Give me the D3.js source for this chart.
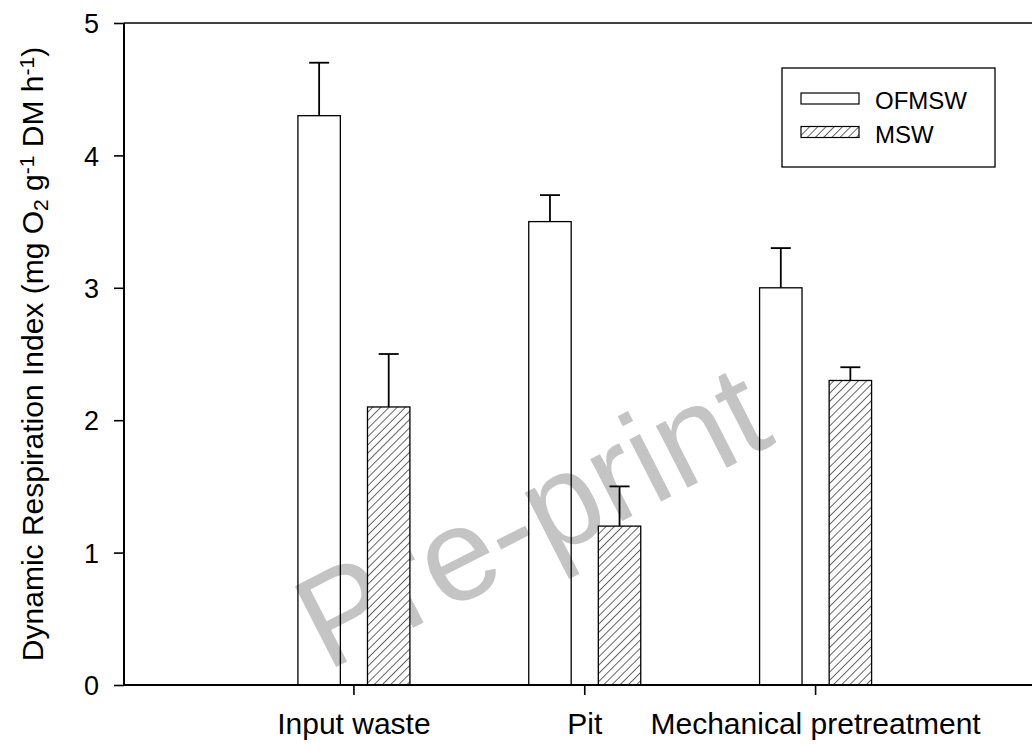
<!DOCTYPE html>
<html>
<head>
<meta charset="utf-8">
<script src="https://cdn.jsdelivr.net/npm/d3@7"></script>
<style>
    body { margin: 0; background: #fff; }
    text { font-family: Arial, "Liberation Sans", sans-serif; fill: #000; }
</style>
</head>
<body>
<div id="chart"></div>
<script>
//-----------------------------Data
var categories = ["Input waste", "Pit", "Mechanical pretreatment"];
var seriesNames = ["OFMSW", "MSW"];
var ofmswValues = [4.3, 3.5, 3.0];
var ofmswErrors = [0.4, 0.2, 0.3];
var mswValues = [2.1, 1.2, 2.3];
var mswErrors = [0.4, 0.3, 0.1];
var yTicks = [0, 1, 2, 3, 4, 5];

var w = 1032;
var h = 749;
var plotLeft = 124, plotRight = 1032, plotTop = 23, plotBottom = 685;

var svg = d3.select("#chart")
    .append("svg")
    .attr("width", w)
    .attr("height", h);

// hatch pattern for MSW bars
var defs = svg.append("defs");
var hatch = defs.append("pattern")
    .attr("id", "hatch")
    .attr("patternUnits", "userSpaceOnUse")
    .attr("width", 5.8)
    .attr("height", 5.8)
    .attr("patternTransform", "rotate(45)");
hatch.append("rect").attr("width", 5.8).attr("height", 5.8).attr("fill", "#fff");
hatch.append("line")
    .attr("x1", 0).attr("y1", 0).attr("x2", 0).attr("y2", 5.8)
    .attr("stroke", "#000").attr("stroke-width", 1.2);

var y = d3.scaleLinear().domain([0, 5]).range([plotBottom, plotTop]);
var x0 = d3.scaleBand().domain(categories).range([238.5, 931]);
var x1 = d3.scaleBand().domain(seriesNames).range([-56, 56]).paddingInner(0.39);

// build rows from the arrays
var rows = [];
categories.forEach(function(c, i) {
    rows.push({ cat: c, series: "OFMSW", value: ofmswValues[i], err: ofmswErrors[i] });
    rows.push({ cat: c, series: "MSW", value: mswValues[i], err: mswErrors[i] });
});

// watermark (open bars let it show through, hatched ones cover it)
svg.append("text")
    .attr("transform", "translate(552,557) rotate(-27)")
    .attr("text-anchor", "middle")
    .style("font-size", "132px")
    .style("fill", "#c4c4c4")
    .text("Pre-print");

function barX(d) {
    return x0(d.cat) + x0.bandwidth() / 2 + x1(d.series);
}

// bars
svg.selectAll("rect.bar")
    .data(rows)
    .enter()
    .append("rect")
    .attr("class", "bar")
    .attr("x", barX)
    .attr("y", function(d) { return y(d.value); })
    .attr("width", x1.bandwidth())
    .attr("height", function(d) { return y(0) - y(d.value); })
    .attr("fill", function(d) { return d.series == "MSW" ? "url(#hatch)" : "none"; })
    .attr("stroke", "#000")
    .attr("stroke-width", 1.3);

// error bars
var errs = svg.selectAll("g.err")
    .data(rows)
    .enter()
    .append("g")
    .attr("class", "err")
    .attr("stroke", "#000")
    .attr("stroke-width", 1.8);
errs.append("line")
    .attr("x1", function(d) { return barX(d) + x1.bandwidth() / 2; })
    .attr("x2", function(d) { return barX(d) + x1.bandwidth() / 2; })
    .attr("y1", function(d) { return y(d.value); })
    .attr("y2", function(d) { return y(d.value + d.err); });
errs.append("line")
    .attr("x1", function(d) { return barX(d) + x1.bandwidth() / 2 - 10; })
    .attr("x2", function(d) { return barX(d) + x1.bandwidth() / 2 + 10; })
    .attr("y1", function(d) { return y(d.value + d.err); })
    .attr("y2", function(d) { return y(d.value + d.err); });

// axes
var yAxis = svg.append("g")
    .attr("transform", "translate(" + plotLeft + ",0)")
    .call(d3.axisLeft(y).tickValues(yTicks).tickFormat(d3.format("d"))
        .tickSize(10).tickPadding(15).tickSizeOuter(0));
yAxis.selectAll("text").style("font-size", "27px").attr("dy", "0.36em");

var xAxis = svg.append("g")
    .attr("transform", "translate(0," + plotBottom + ")")
    .call(d3.axisBottom(x0).tickSize(10).tickPadding(18).tickSizeOuter(0));
xAxis.selectAll("text").style("font-size", "30px");

svg.selectAll(".domain").remove();
svg.selectAll(".tick line").attr("stroke", "#000").attr("stroke-width", 1.6);

// axis lines
svg.append("line")
    .attr("x1", plotLeft).attr("x2", plotLeft).attr("y1", plotTop).attr("y2", plotBottom)
    .attr("stroke", "#000").attr("stroke-width", 2);
svg.append("line")
    .attr("x1", plotLeft).attr("x2", plotRight).attr("y1", plotBottom).attr("y2", plotBottom)
    .attr("stroke", "#000").attr("stroke-width", 2.2);
svg.append("line")
    .attr("x1", plotLeft).attr("x2", plotRight).attr("y1", plotTop).attr("y2", plotTop)
    .attr("stroke", "#000").attr("stroke-width", 1.6);

// y axis title with sub / superscripts
var yTitle = svg.append("text")
    .attr("transform", "translate(43," + ((plotTop + plotBottom) / 2) + ") rotate(-90)")
    .attr("text-anchor", "middle")
    .style("font-size", "30px");
yTitle.append("tspan").text("Dynamic Respiration Index (mg O");
yTitle.append("tspan").attr("baseline-shift", "-25%").style("font-size", "21px").text("2");
yTitle.append("tspan").text(" g");
yTitle.append("tspan").attr("baseline-shift", "45%").style("font-size", "21px").text("-1");
yTitle.append("tspan").text("  DM h");
yTitle.append("tspan").attr("baseline-shift", "45%").style("font-size", "21px").text("-1");
yTitle.append("tspan").text(")");

// legend
var legend = svg.append("g");
legend.append("rect")
    .attr("x", 782).attr("y", 68).attr("width", 213).attr("height", 99)
    .attr("fill", "#fff").attr("stroke", "#000").attr("stroke-width", 1.3);
var items = legend.selectAll("g.item")
    .data(seriesNames)
    .enter()
    .append("g")
    .attr("class", "item")
    .attr("transform", function(d, i) { return "translate(801," + (93 + i * 33.5) + ")"; });
items.append("rect")
    .attr("width", 58).attr("height", 11)
    .attr("fill", function(d) { return d == "MSW" ? "url(#hatch)" : "#fff"; })
    .attr("stroke", "#000").attr("stroke-width", 1.2);
items.append("text")
    .attr("x", 74).attr("y", 16)
    .style("font-size", "24px")
    .text(function(d) { return d; });
</script>
</body>
</html>
